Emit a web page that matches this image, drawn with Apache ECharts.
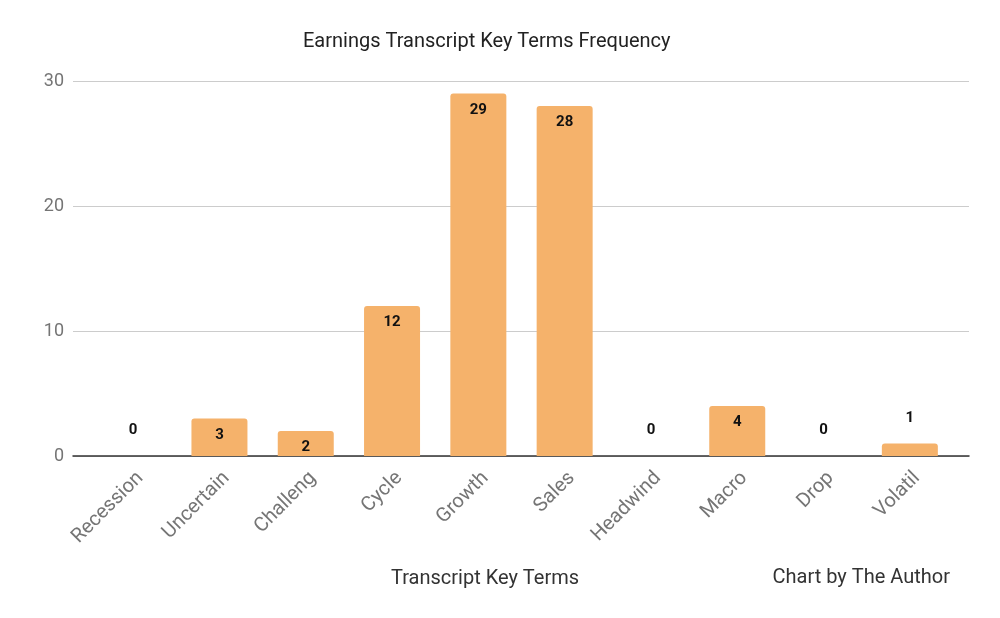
<!DOCTYPE html>
<html>
<head>
<meta charset="utf-8">
<script src="https://cdn.jsdelivr.net/npm/echarts@6/dist/echarts.min.js"></script>
<style>
  html, body { margin: 0; padding: 0; background: #fff; }
  #chart { width: 1000px; height: 618px; }
</style>
</head>
<body>
<div id="chart"></div>
<script>
const terms = ['Recession', 'Uncertain', 'Challeng', 'Cycle', 'Growth', 'Sales', 'Headwind', 'Macro', 'Drop', 'Volatil'];
const counts = [0, 3, 2, 12, 29, 28, 0, 4, 0, 1];
const yTicks = [0, 10, 20, 30];

const chart = echarts.init(document.getElementById('chart'));

// small bars get their label above, the rest inside the top
const barData = counts.map(function (v) {
    if (v >= 2) {
        return { value: v, label: { position: 'insideTop', distance: 9 } };
    }
    return { value: v, label: { position: 'top', distance: 18 } };
});

const yMin = yTicks[0];
const yMax = yTicks[yTicks.length - 1];

const option = {
    backgroundColor: '#fff',
    textStyle: { fontFamily: 'Roboto' },
    title: {
        text: 'Earnings Transcript Key Terms Frequency',
        left: 298,
        top: 27,
        textStyle: { fontFamily: 'Roboto', fontSize: 20, fontWeight: 'normal', color: '#222' }
    },
    // grid 0: gridlines + baseline across full width, grid 1: the bars (inset like the original)
    grid: [
        { left: 73, right: 31, top: 81, bottom: 162 },
        { left: 90, right: 47, top: 81, bottom: 162 }
    ],
    xAxis: [{
        type: 'value',
        gridIndex: 0,
        min: 0,
        max: 1,
        axisLine: { show: true, onZero: false, lineStyle: { color: '#333', width: 1.5 } },
        axisTick: { show: false },
        axisLabel: { show: false },
        splitLine: { show: false }
    }, {
        type: 'category',
        gridIndex: 1,
        data: terms,
        name: 'Transcript Key Terms',
        nameLocation: 'middle',
        nameGap: 113,
        nameTextStyle: { fontSize: 20, color: '#333', padding: [0, 73, 0, 0] },
        axisLine: { show: false },
        axisTick: { show: false },
        axisLabel: { rotate: 45, fontSize: 20, color: '#757575', margin: 12, interval: 0, verticalAlign: 'top' }
    }],
    yAxis: [{
        type: 'value',
        gridIndex: 0,
        min: yMin,
        max: yMax,
        interval: 10,
        axisLine: { show: false },
        axisTick: { show: false },
        axisLabel: { fontSize: 18, color: '#757575', margin: 9 },
        splitLine: { lineStyle: { color: '#ccc', width: 1 } }
    }, {
        type: 'value',
        gridIndex: 1,
        min: yMin,
        max: yMax,
        interval: 10,
        show: false,
        splitLine: { show: false }
    }],
    series: [{
        type: 'bar',
        xAxisIndex: 1,
        yAxisIndex: 1,
        data: barData,
        barWidth: 56,
        itemStyle: { color: '#F5B26B', borderRadius: [3, 3, 0, 0] },
        label: {
            show: true,
            fontSize: 15,
            fontWeight: 'bold',
            color: '#111'
        }
    }],
    graphic: [{
        type: 'text',
        right: 50,
        top: 568,
        style: { text: 'Chart by The Author', fontFamily: 'Roboto', fontSize: 20, fill: '#333' }
    }]
};

chart.setOption(option);
</script>
</body>
</html>
